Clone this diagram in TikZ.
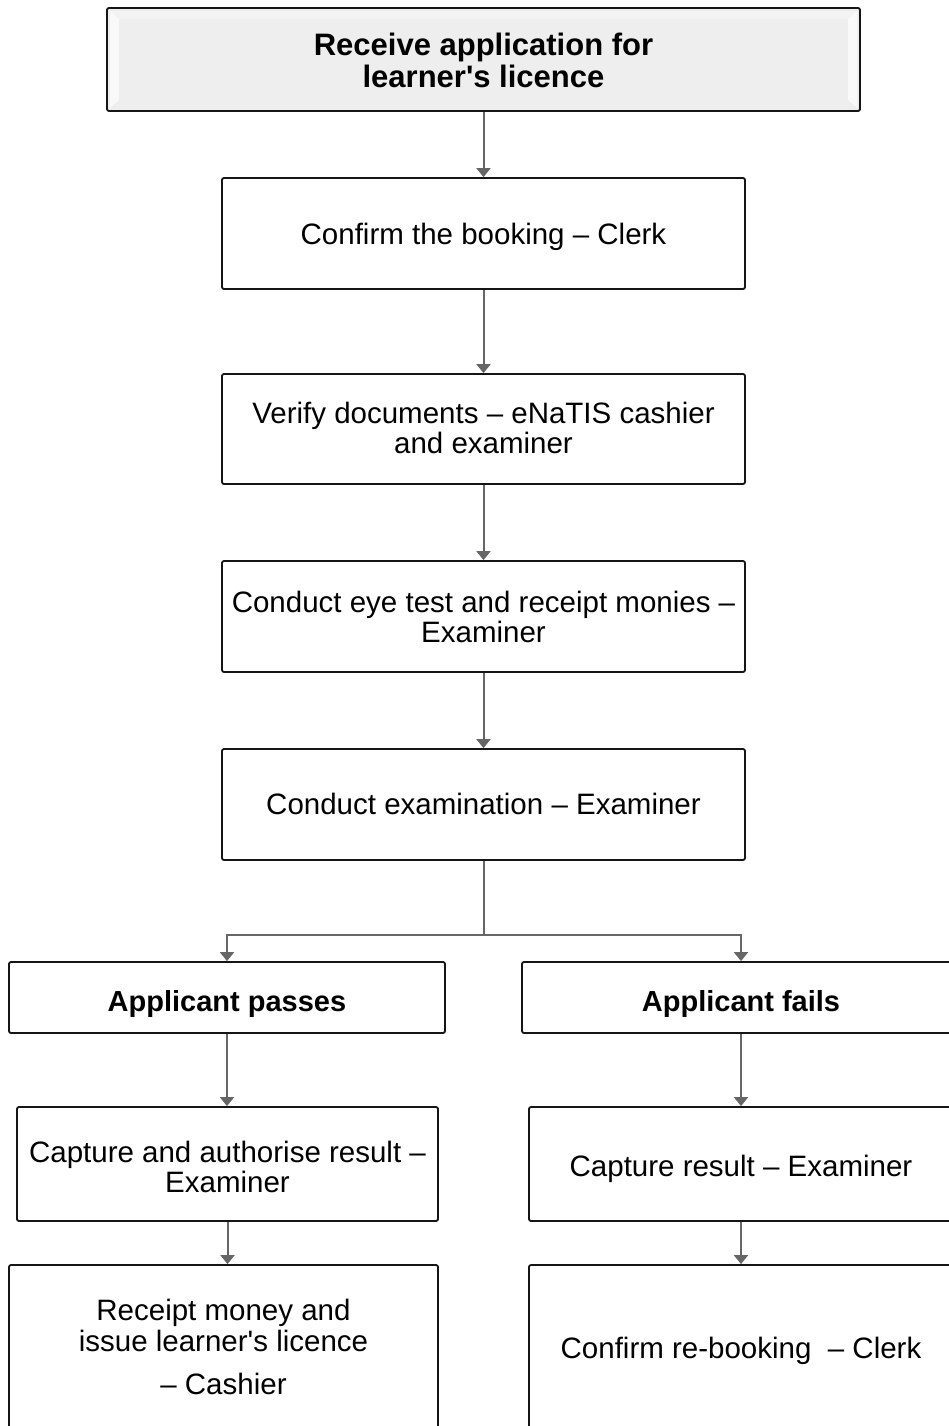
\documentclass[tikz,border=0pt]{standalone}
\usepackage{fontspec}
\setmainfont{Liberation Sans}
\usetikzlibrary{arrows.meta,calc}
\definecolor{boxline}{HTML}{151515}
\definecolor{linkgray}{HTML}{666666}
\definecolor{headfill}{HTML}{EEEEEE}
\newcommand{\apos}{\textquotesingle}
\tikzset{
  stepbox/.style={draw=boxline, line width=1.8pt, rounded corners=2pt, fill=white, inner sep=0pt},
  headbox/.style={stepbox, fill=headfill},
  steptext/.style={inner sep=0pt, align=center, font=\fontsize{29.5}{30.5}\selectfont},
  headtext/.style={inner sep=0pt, align=center, font=\bfseries\fontsize{31}{31.5}\selectfont},
  labeltext/.style={inner sep=0pt, align=center, font=\bfseries\fontsize{29}{30}\selectfont},
  link/.style={draw=linkgray, line width=2pt, -{Triangle[width=14pt,length=9pt]}},
  plainlink/.style={draw=linkgray, line width=2pt},
}
\begin{document}
\begin{tikzpicture}[x=1pt, y=-1pt]
\useasboundingbox (0,0) rectangle (949,1426);
\clip (0,0) rectangle (949,1426);
\fill[white] (0,0) rectangle (949,1426);

% header with a soft bevel
\node[headbox, minimum width=753pt, minimum height=103pt] (start) at (483.5,59.5) {};
\fill[white, opacity=0.7] (110,11) -- (119,19) -- (119,100) -- (110,108) -- cycle;
\fill[white, opacity=0.7] (857,11) -- (848,19) -- (848,100) -- (857,108) -- cycle;
\fill[white, opacity=0.35] (110,11) -- (857,11) -- (848,19) -- (119,19) -- cycle;
\node[headtext] (start-t) at ($(start.center)+(0,1)$)
  {Receive application for\\learner\apos s licence};

% main sequence
\node[stepbox, minimum width=523pt, minimum height=111pt] (confirm) at (483.5,233.5) {};
\node[steptext] (confirm-t) at ($(confirm.center)+(0,3)$) {Confirm the booking – Clerk};
\node[stepbox, minimum width=523pt, minimum height=110pt] (verify) at (483.5,429) {};
\node[steptext] (verify-t) at ($(verify.center)+(0,-1)$) {Verify documents – eNaTIS cashier\\and examiner};
\node[stepbox, minimum width=523pt, minimum height=111pt] (eyetest) at (483.5,616.5) {};
\node[steptext] (eyetest-t) at ($(eyetest.center)+(0,0.5)$) {Conduct eye test and receipt monies –\\Examiner};
\node[stepbox, minimum width=523pt, minimum height=111pt] (exam) at (483.5,804.5) {};
\node[steptext] (exam-t) at ($(exam.center)+(0,-0.5)$) {Conduct examination – Examiner};

% outcomes
\node[stepbox, minimum width=436pt, minimum height=71pt] (pass) at (227,997.5) {};
\node[labeltext] (pass-t) at ($(pass.center)+(0,6)$) {Applicant passes};
\node[stepbox, minimum width=438pt, minimum height=71pt] (fail) at (741,997.5) {};
\node[labeltext] (fail-t) at ($(fail.center)+(0,6)$) {Applicant fails};

\node[stepbox, minimum width=421pt, minimum height=114pt] (authorise) at (227.5,1164) {};
\node[steptext] (authorise-t) at ($(authorise.center)+(0,3)$) {Capture and authorise result –\\Examiner};
\node[stepbox, minimum width=424pt, minimum height=114pt] (capture) at (741,1164) {};
\node[steptext] (capture-t) at ($(capture.center)+(0,5)$) {Capture result – Examiner};

\node[stepbox, minimum width=429pt, minimum height=170pt] (issue) at (223.5,1350) {};
\node[steptext] (issue-t) at ($(issue.center)+(0,-3)$)
  {Receipt money and\\issue learner\apos s licence\\[13pt]– Cashier};
\node[stepbox, minimum width=424pt, minimum height=170pt] (rebook) at (741,1350) {};
\node[steptext] (rebook-t) at ($(rebook.center)+(0,1)$) {Confirm re-booking\ \ – Clerk};

% connectors
\draw[link] (start.south) -- (confirm.north);
\draw[link] (confirm.south) -- (verify.north);
\draw[link] (verify.south) -- (eyetest.north);
\draw[link] (eyetest.south) -- (exam.north);
\draw[plainlink] (exam.south) -- ++(0,74) coordinate (fork);
\draw[link] (fork) -| (pass.north);
\draw[link] (fork) -| (fail.north);
\draw[link] (pass.south) -- (authorise.north -| pass.south);
\draw[link] (fail.south) -- (capture.north -| fail.south);
\draw[link] (authorise.south) -- (issue.north -| authorise.south);
\draw[link] (capture.south) -- (rebook.north -| capture.south);
\end{tikzpicture}
\end{document}
